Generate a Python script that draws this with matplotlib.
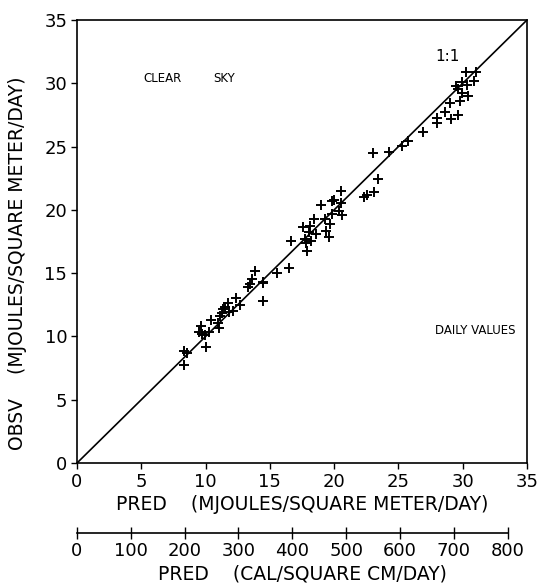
import matplotlib
matplotlib.use("Agg")
import matplotlib.pyplot as plt

plt.rcParams['font.family'] = ['DejaVu Sans']

# Data (MJ / m^2 / day)
pred = [8.32, 8.53, 8.34,
        9.62, 9.51, 9.69, 9.98, 10.29, 10.03, 10.42, 10.94, 11.07, 11.12, 11.25, 11.38, 11.51,
        11.77, 11.85, 12.16, 12.67, 12.36, 14.44,
        13.27, 13.45, 13.63, 13.84, 14.44, 14.49,
        15.58, 16.49, 16.66, 17.60, 18.12, 17.71, 17.81, 18.20, 17.86, 18.06, 18.45, 18.58,
        18.95, 19.28, 19.36, 19.60, 19.70, 19.81, 19.98, 19.85, 20.55, 20.55, 20.40, 20.61,
        22.32, 22.55, 23.12, 23.41, 22.99, 24.28, 25.24, 25.71, 26.93,
        30.25, 31.00, 29.96, 30.30, 30.89, 29.47, 29.63, 29.91, 30.38, 29.03, 29.78, 28.62,
        27.97, 27.99, 29.06, 29.60]
obsv = [8.87, 8.71, 7.72,
        10.85, 10.35, 10.17, 10.11, 10.37, 9.19, 11.30, 11.03, 10.69, 11.61, 11.82, 12.14, 12.30,
        12.66, 11.95, 12.03, 12.48, 13.06, 12.82,
        13.93, 14.12, 14.51, 15.17, 14.32, 14.19,
        14.98, 15.43, 17.51, 18.66, 18.74, 17.67, 17.35, 17.56, 16.77, 18.25, 19.27, 18.06,
        20.40, 19.25, 18.33, 17.83, 18.85, 20.72, 20.75, 19.67, 21.46, 20.51, 19.91, 19.61,
        21.04, 21.19, 21.41, 22.46, 24.46, 24.57, 25.04, 25.46, 26.15,
        30.91, 30.86, 30.12, 29.86, 30.20, 29.78, 29.54, 29.20, 28.99, 28.41, 28.57, 27.70,
        27.23, 26.83, 27.17, 27.49]

main_ticks = [0, 5, 10, 15, 20, 25, 30, 35]
cal_ticks = [0, 100, 200, 300, 400, 500, 600, 700, 800]
CAL_TO_MJ = 0.041868

fig = plt.figure(figsize=(5.43, 5.87), dpi=100)
ax = fig.add_axes([0.1418, 0.2112, 0.8287, 0.7547])

ax.plot([0, 35], [0, 35], color='black', lw=1.2)
ax.plot(pred, obsv, linestyle='none', marker='+', color='black', markersize=6.5, mew=1.4)

ax.set_xlim(0, 35)
ax.set_ylim(0, 35)
ax.set_xticks(main_ticks)
ax.set_yticks(main_ticks)
ax.tick_params(axis='both', direction='out', length=4, width=1.0, labelsize=13, pad=3)
ax.tick_params(top=False, right=False)
for s in ax.spines.values():
    s.set_linewidth(1.2)

ax.set_xlabel('PRED    (MJOULES/SQUARE METER/DAY)', fontsize=13.5, labelpad=3)
ax.set_ylabel('OBSV    (MJOULES/SQUARE METER/DAY)', fontsize=13.5)
ax.yaxis.set_label_coords(-0.11, 0.45)

ax.text(5.2, 30.4, 'CLEAR', fontsize=8.5, va='center', ha='left')
ax.text(10.6, 30.4, 'SKY', fontsize=8.5, va='center', ha='left')
ax.text(27.9, 32.1, '1:1', fontsize=11, va='center', ha='left')
ax.text(31.0, 10.5, 'DAILY VALUES', fontsize=8.5, va='center', ha='center')

# Secondary axis (cal / cm^2 / day)
ax2 = fig.add_axes([0.1418, 0.092, 0.8287, 0.001])
ax2.set_xlim(0, 35)
ax2.set_ylim(0, 1)
for k in ['top', 'left', 'right']:
    ax2.spines[k].set_visible(False)
ax2.spines['bottom'].set_bounds(0, 800 * CAL_TO_MJ)
ax2.spines['bottom'].set_linewidth(1.2)
ax2.set_yticks([])
ax2.set_xticks([c * CAL_TO_MJ for c in cal_ticks])
ax2.set_xticklabels([str(c) for c in cal_ticks])
ax2.tick_params(axis='x', direction='inout', length=9, width=1.0, labelsize=13, pad=2)
ax2.patch.set_visible(False)
ax2.set_xlabel('PRED    (CAL/SQUARE CM/DAY)', fontsize=13.5, labelpad=3)

fig.savefig('out.png', dpi=100)
